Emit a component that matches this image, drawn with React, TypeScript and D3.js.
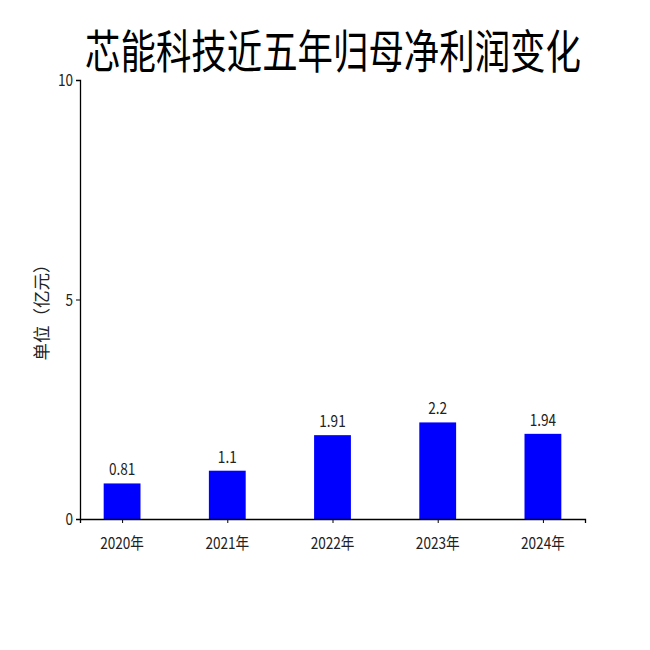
import React, { useEffect, useRef } from 'react';
import * as d3 from 'd3';

const years = ['2020年', '2021年', '2022年', '2023年', '2024年'];
const profits = [0.81, 1.1, 1.91, 2.2, 1.94];
const valueLabels = ['0.81', '1.1', '1.91', '2.2', '1.94'];
const yTicks = [0, 5, 10];

const FONT = '"Noto Sans CJK SC", "DejaVu Sans", sans-serif';

export default function App() {
  const ref = useRef<SVGSVGElement>(null);

  useEffect(() => {
    if (!ref.current) return;
    const svg = d3.select(ref.current);
    svg.selectAll('*').remove();

    const width = 650;
    const height = 650;
    const margin = { top: 80, right: 65, bottom: 131, left: 80 };

    svg.attr('width', width).attr('height', height).attr('viewBox', `0 0 ${width} ${height}`);

    // condensed text helper (reference font is narrow)
    const label = (
      px: number, py: number, txt: string, size: number,
      anchor: string, sx: number, rotate = 0, fill = '#222'
    ) => {
      svg.append('text')
        .attr('transform', `translate(${px},${py}) rotate(${rotate}) scale(${sx},1)`)
        .attr('text-anchor', anchor)
        .attr('font-family', FONT)
        .attr('font-size', size)
        .attr('fill', fill)
        .text(txt);
    };

    // ------- Scales -------
    const x = d3
      .scaleLinear()
      .domain([-0.4, years.length - 1 + 0.4])
      .range([margin.left, width - margin.right]);
    const y = d3
      .scaleLinear()
      .domain([0, 10])
      .range([height - margin.bottom, margin.top]);
    const barW = x(0.35) - x(0);

    // ------- Title -------
    label(333, 68, '芯能科技近五年归母净利润变化', 46, 'middle', 0.77, 0, '#000');

    // ------- Bars -------
    svg.selectAll('rect.bar')
      .data(profits)
      .enter()
      .append('rect')
      .attr('class', 'bar')
      .attr('x', (_d, i) => x(i) - barW / 2)
      .attr('y', (d) => y(d))
      .attr('width', barW)
      .attr('height', (d) => y(0) - y(d))
      .attr('fill', '#0000ff');

    profits.forEach((d, i) => label(x(i), y(d) - 8, valueLabels[i], 16, 'middle', 0.85));

    // ------- Axes -------
    const xAxis = svg.append('g')
      .attr('transform', `translate(0, ${y(0)})`)
      .call(
        d3.axisBottom(x)
          .tickValues(d3.range(years.length))
          .tickFormat(() => '')
          .tickSizeOuter(0)
          .tickSize(4)
      );
    const yAxis = svg.append('g')
      .attr('transform', `translate(${margin.left}, 0)`)
      .call(d3.axisLeft(y).tickValues(yTicks).tickFormat(() => '').tickSizeOuter(0).tickSize(4));

    [xAxis, yAxis].forEach((g) => {
      g.select('.domain').attr('stroke', '#000').attr('stroke-width', 1.3);
      g.selectAll('.tick line').attr('stroke', '#000');
    });

    years.forEach((t, i) => label(x(i), y(0) + 30, t, 16, 'middle', 0.85));
    yTicks.forEach((t) => label(margin.left - 7, y(t) + 6, String(t), 16, 'end', 0.85));

    // ------- Y label -------
    label(48, 308, '单位（亿元）', 17.5, 'middle', 1, -90);
  }, []);

  return <svg ref={ref} style={{ display: 'block', margin: '-8px' }} />;
}
